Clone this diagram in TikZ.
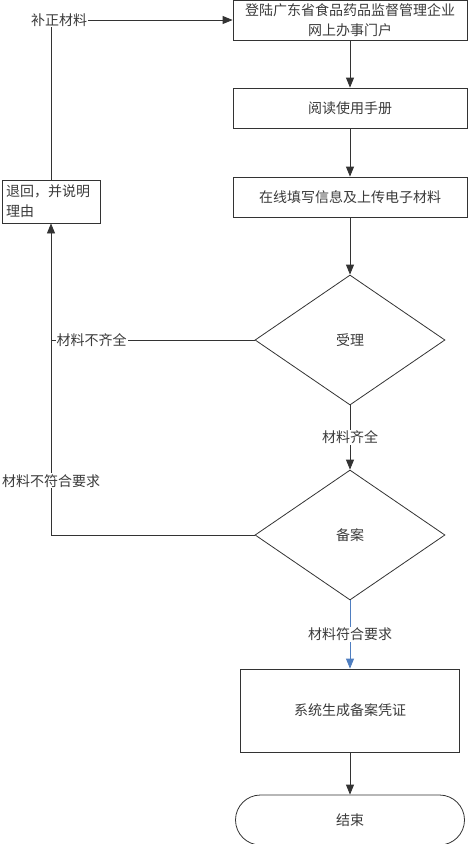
\documentclass[tikz,border=0pt]{standalone}
\usepackage{fontspec}
\newfontfamily\cjk{Noto Sans CJK SC}
\usetikzlibrary{shapes.geometric,arrows.meta}
\definecolor{linie}{HTML}{333333}
\definecolor{schrift}{HTML}{3A3A3A}
\definecolor{blau}{HTML}{4F7EC0}
\begin{document}
\begin{tikzpicture}[x=1pt,y=-1pt,
  >={Triangle[length=10pt,width=8pt]},
  every node/.style={font=\cjk\fontsize{14}{20}\selectfont,text=schrift},
  kasten/.style={draw=linie,line width=0.8pt,rectangle,inner sep=2pt},
  raute/.style={draw=linie,line width=0.8pt,diamond,inner sep=0pt,
    minimum width=190pt,minimum height=130pt},
  ende/.style={draw=linie,line width=0.8pt,rounded corners=25pt,
    minimum width=229pt,minimum height=50pt},
  marke/.style={fill=white,inner sep=1pt},
  pfeil/.style={draw=linie,line width=0.8pt,->}]
\useasboundingbox (0,0) rectangle (468,844);
%Kaesten
	\node[kasten,minimum width=234pt,minimum height=40pt,align=center] (portal)
		at (350,20) {登陆广东省食品药品监督管理企业\\网上办事门户};
	\node[kasten,minimum width=234pt,minimum height=40pt] (handbuch)
		at (350,108) {阅读使用手册};
	\node[kasten,minimum width=234pt,minimum height=40pt] (ausfuellen)
		at (350,197) {在线填写信息及上传电子材料};
	\node[kasten,minimum width=98pt,minimum height=43pt,text width=90pt,align=left] (zurueck)
		at (51,201.5) {退回，并说明\\理由};
%Rauten
	\node[raute] (annahme) at (350,340) {受理};
	\node[raute] (ablage) at (350,535) {备案};
%Ergebnis
	\node[kasten,minimum width=219pt,minimum height=83pt] (beleg)
		at (350,710.5) {系统生成备案凭证};
	\node[ende] (schluss) at (350,820) {结束};
%Pfeile
	\draw[pfeil] (portal) -- (handbuch);
	\draw[pfeil] (handbuch) -- (ausfuellen);
	\draw[pfeil] (ausfuellen) -- (annahme);
	\draw[pfeil] (annahme) -- node[marke] {材料齐全} (ablage);
	\draw[pfeil,draw=blau] (ablage) -- node[marke] {材料符合要求} (beleg);
	\draw[pfeil] (beleg) -- (schluss);
%Rueckweg
	\draw[pfeil] (ablage.west) -| node[marke,pos=0.587] {材料不符合要求} (zurueck.south);
	\draw[draw=linie,line width=0.8pt] (annahme.west)
		-- node[marke,pos=0.8] {材料不齐全} (zurueck.south |- annahme.west);
	\draw[pfeil] (zurueck.north) |- node[marke,pos=0.5,xshift=8pt] {补正材料} (portal.west);
\end{tikzpicture}
\end{document}
